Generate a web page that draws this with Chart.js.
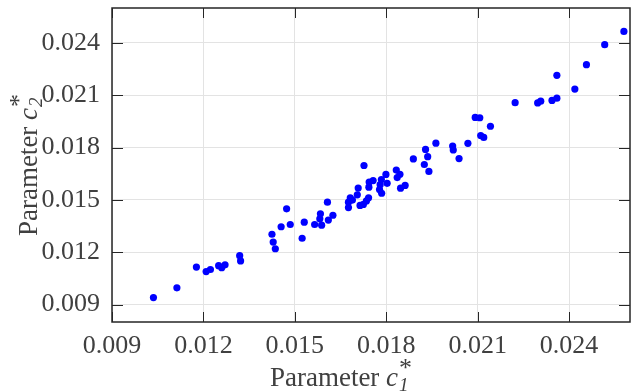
<!DOCTYPE html>
<html><head><meta charset="utf-8">
<script src="https://cdn.jsdelivr.net/npm/chart.js@4/dist/chart.umd.min.js"></script>
<style>html,body{margin:0;padding:0;background:#fff}</style>
</head><body>
<canvas id="c" width="631" height="392"></canvas>
<script>
// Parameter c1* (x) and c2* (y) values
const c1Values = [0.01036,0.01113,0.01177,0.01209,0.01223,0.01250,0.01260,0.01271,0.01319,0.01322,
  0.01425,0.01429,0.01436,0.01455,0.01473,0.01485,0.01524,0.01531,0.01565,0.01584,
  0.01582,0.01588,0.01607,0.01610,0.01625,0.01676,0.01676,0.01682,0.01689,0.01705,
  0.01708,0.01714,0.01725,0.01735,0.01742,0.01743,0.01744,0.01757,0.01727,0.01778,
  0.01780,0.01785,0.01784,0.01799,0.01803,0.01833,0.01845,0.01836,0.01847,0.01862,
  0.01889,0.01925,0.01929,0.01936,0.01940,0.01963,0.02018,0.02020,0.02039,0.02068,
  0.02092,0.02107,0.02142,0.02110,0.02120,0.02223,0.02297,0.02307,0.02344,0.02360,
  0.02360,0.02419,0.02457,0.02517,0.02580];
const c2Values = [0.00940,0.00996,0.01115,0.01089,0.01101,0.01123,0.01111,0.01128,0.01180,0.01150,
  0.01303,0.01258,0.01220,0.01346,0.01449,0.01359,0.01280,0.01372,0.01359,0.01420,
  0.01392,0.01355,0.01487,0.01384,0.01412,0.01456,0.01487,0.01512,0.01499,0.01529,
  0.01568,0.01468,0.01474,0.01494,0.01512,0.01573,0.01602,0.01611,0.01697,0.01559,
  0.01587,0.01538,0.01617,0.01646,0.01595,0.01671,0.01647,0.01628,0.01567,0.01583,
  0.01735,0.01703,0.01789,0.01748,0.01663,0.01825,0.01809,0.01786,0.01737,0.01824,
  0.01973,0.01971,0.01922,0.01869,0.01858,0.02057,0.02056,0.02066,0.02070,0.02083,
  0.02214,0.02135,0.02275,0.02390,0.02466];
const xTickValues = [0.009, 0.012, 0.015, 0.018, 0.021, 0.024];
const yTickValues = [0.009, 0.012, 0.015, 0.018, 0.021, 0.024];
const xRange = [0.009, 0.026];
const yRange = [0.008, 0.026];
const xTitleParts = ["Parameter ", "c", "1", "*"];
const yTitleParts = ["Parameter ", "c", "2", "*"];

const points = c1Values.map((x, i) => ({x: x, y: c2Values[i]}));
const FONT = "'Liberation Serif', 'Times New Roman', serif";
const TEXT = "#404040";

function drawTitle(ctx, parts, size) {
  const segs = [
    {t: parts[0], f: `${size}px ${FONT}`, dy: 0},
    {t: parts[1], f: `italic ${size}px ${FONT}`, dy: 0},
    {t: parts[2], f: `italic ${Math.round(size*0.7)}px ${FONT}`, dy: size*0.2},
    {t: parts[3], f: `${Math.round(size*0.95)}px ${FONT}`, dy: -size*0.38}
  ];
  let w = 0;
  ctx.font = segs[0].f; w += ctx.measureText(segs[0].t).width;
  ctx.font = segs[1].f; w += ctx.measureText(segs[1].t).width + 1;
  ctx.font = segs[2].f; const w2 = ctx.measureText(segs[2].t).width;
  ctx.font = segs[3].f; const w3 = ctx.measureText(segs[3].t).width;
  const total = w + Math.max(w2, w3);
  let x = -total / 2;
  ctx.fillStyle = TEXT;
  ctx.textBaseline = "alphabetic";
  ctx.textAlign = "left";
  ctx.font = segs[0].f; ctx.fillText(segs[0].t, x, 0); x += ctx.measureText(segs[0].t).width;
  ctx.font = segs[1].f; ctx.fillText(segs[1].t, x, 0); x += ctx.measureText(segs[1].t).width + 1;
  ctx.font = segs[2].f; ctx.fillText(segs[2].t, x, segs[2].dy);
  ctx.font = segs[3].f; ctx.fillText(segs[3].t, x, segs[3].dy);
}

const framePlugin = {
  id: "frame",
  afterDraw(chart) {
    const ctx = chart.ctx, a = chart.chartArea;
    const xs = chart.scales.x, ys = chart.scales.y;
    ctx.save();
    ctx.strokeStyle = "#262626";
    ctx.lineWidth = 1;
    ctx.beginPath();
    xTickValues.forEach(v => {
      const p = Math.round(xs.getPixelForValue(v)) + 0.5;
      ctx.moveTo(p, a.bottom); ctx.lineTo(p, a.bottom - 10);
      ctx.moveTo(p, a.top); ctx.lineTo(p, a.top + 10);
    });
    yTickValues.forEach(v => {
      const p = Math.round(ys.getPixelForValue(v)) + 0.5;
      ctx.moveTo(a.left, p); ctx.lineTo(a.left + 11, p);
      ctx.moveTo(a.right, p); ctx.lineTo(a.right - 11, p);
    });
    ctx.stroke();
    ctx.lineWidth = 1.5;
    ctx.strokeRect(a.left, a.top, a.right - a.left, a.bottom - a.top);
    ctx.save();
    ctx.translate(341, 386);
    drawTitle(ctx, xTitleParts, 27);
    ctx.restore();
    ctx.save();
    ctx.translate(37, (a.top + a.bottom) / 2);
    ctx.rotate(-Math.PI / 2);
    drawTitle(ctx, yTitleParts, 27);
    ctx.restore();
    ctx.restore();
  }
};

new Chart(document.getElementById("c"), {
  type: "scatter",
  data: { datasets: [{ data: points, backgroundColor: "#0000ff", borderWidth: 0, pointRadius: 3.6, pointHoverRadius: 3.6 }] },
  options: {
    responsive: false, animation: false, devicePixelRatio: 1,
    layout: { autoPadding: false, padding: { top: 8, right: 1, left: 0, bottom: 0 } },
    plugins: { legend: { display: false }, tooltip: { enabled: false } },
    scales: {
      x: {
        type: "linear", min: xRange[0], max: xRange[1],
        afterBuildTicks: s => { s.ticks = xTickValues.map(v => ({value: v})); },
        afterFit: s => { s.height = 70; s.paddingLeft = 0; s.paddingRight = 0; },
        grid: { color: "#e3e3e3", lineWidth: 1, drawTicks: false },
        border: { display: false },
        ticks: { padding: 9, color: TEXT, font: { family: FONT, size: 26 }, maxRotation: 0, callback: v => v.toFixed(3) }
      },
      y: {
        type: "linear", min: yRange[0], max: yRange[1],
        afterBuildTicks: s => { s.ticks = yTickValues.map(v => ({value: v})); },
        afterFit: s => { s.width = 112; s.paddingTop = 0; s.paddingBottom = 0; },
        grid: { color: "#e3e3e3", lineWidth: 1, drawTicks: false },
        border: { display: false },
        ticks: { padding: 12, color: TEXT, font: { family: FONT, size: 26 }, callback: v => v.toFixed(3) }
      }
    }
  },
  plugins: [framePlugin]
});
</script>
</body></html>
